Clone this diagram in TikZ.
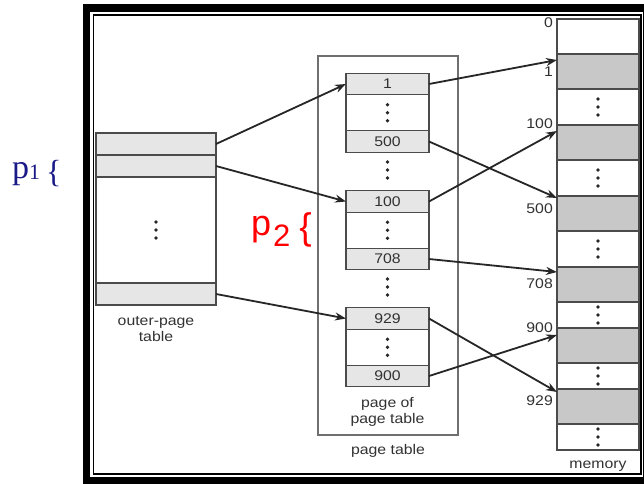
\documentclass[tikz,border=0pt]{standalone}
\usepackage{fontspec}
\setmainfont{Liberation Sans}[FakeStretch=1.13]
\newfontfamily\serifp{Liberation Serif}
\newfontfamily\sansp{Liberation Sans}
\usetikzlibrary{positioning,arrows.meta}
\definecolor{rowGray}{RGB}{230,230,230}
\definecolor{memGray}{RGB}{200,200,200}
\definecolor{lineGray}{RGB}{75,75,75}
\definecolor{txtGray}{RGB}{50,50,50}
\definecolor{pOne}{RGB}{25,25,135}

\begin{document}
\begin{tikzpicture}[x=1pt,y=-1pt,
    cell/.style={draw=lineGray, line width=1.4pt, inner sep=0pt, outer sep=0pt,
      font=\fontsize{14}{16}\selectfont, text=txtGray},
    ocell/.style={cell, minimum width=120pt, minimum height=22pt},
    pcell/.style={cell, minimum width=83pt, minimum height=21.5pt, fill=rowGray},
    mcell/.style={cell, minimum width=82pt, minimum height=35pt, fill=memGray},
    lbl/.style={font=\fontsize{14}{16}\selectfont, text=txtGray, align=center, inner sep=0pt},
    ptr/.style={line width=1.8pt, draw=black!85, -{Stealth[length=11pt,width=8pt]}},
    vdots/.pic={\foreach \dy in {-8,0,8} \fill[black!85] (0,\dy) circle (1.8);}
  ]
  \useasboundingbox (0,0) rectangle (644,483);
  \clip (0,0) rectangle (644,483);
  \fill[white] (0,0) rectangle (644,483);

  % frame
  \draw[line width=7.5pt] (86.5,8) rectangle (646.75,480.25);
  \draw[line width=1.5pt] (93.5,15) rectangle (641,474);

  % outer-page table
  \node[ocell, fill=rowGray] (ot1) at (156,144) {};
  \node[ocell, fill=rowGray, below=0pt of ot1] (ot2) {};
  \node[ocell, minimum height=106pt, below=0pt of ot2] (otgap) {};
  \node[ocell, fill=rowGray, below=0pt of otgap] (ot3) {};
  \pic at (otgap) {vdots};
  \node[lbl] (otlabel) at (156,329) {outer-page\\table};

  % page table
  \node[draw=lineGray!80, line width=1.2pt, minimum width=140pt, minimum height=379pt,
    inner sep=0pt] (ptab) at (388,245.5) {};
  \node[lbl] (ptlabel) at (388,451) {page table};

  \node[pcell] (a1) at (387.5,84) {1};
  \node[pcell, fill=white, minimum height=36pt, below=0pt of a1] (agap) {};
  \node[pcell, below=0pt of agap] (a2) {500};
  \pic at (agap) {vdots};
  \pic at (387.5,170) {vdots};

  \node[pcell] (b1) at (387.5,201.5) {100};
  \node[pcell, fill=white, minimum height=36pt, below=0pt of b1] (bgap) {};
  \node[pcell, below=0pt of bgap] (b2) {708};
  \pic at (bgap) {vdots};
  \pic at (387.5,287) {vdots};

  \node[pcell] (c1) at (387.5,318.5) {929};
  \node[pcell, fill=white, minimum height=36pt, below=0pt of c1] (cgap) {};
  \node[pcell, below=0pt of cgap] (c2) {900};
  \pic at (cgap) {vdots};
  \node[lbl] (pplabel) at (387.5,411.5) {page of\\page table};

  % memory
  \node[mcell, fill=white] (m0) at (598,36.5) {};
  \node[mcell, below=0pt of m0] (m1) {};
  \node[mcell, fill=white, minimum height=36pt, below=0pt of m1] (md1) {};
  \node[mcell, below=0pt of md1] (m100) {};
  \node[mcell, fill=white, minimum height=36pt, below=0pt of m100] (md2) {};
  \node[mcell, below=0pt of md2] (m500) {};
  \node[mcell, fill=white, minimum height=36pt, below=0pt of m500] (md3) {};
  \node[mcell, below=0pt of md3] (m708) {};
  \node[mcell, fill=white, minimum height=26pt, below=0pt of m708] (md4) {};
  \node[mcell, below=0pt of md4] (m900) {};
  \node[mcell, fill=white, minimum height=26pt, below=0pt of m900] (md5) {};
  \node[mcell, below=0pt of md5] (m929) {};
  \node[mcell, fill=white, minimum height=26pt, below=0pt of m929] (md6) {};
  \foreach \gap in {md1,md2,md3,md4,md5,md6} \pic at (\gap) {vdots};

  \node[lbl, anchor=east] (ml0) at (553,23) {0};
  \node[lbl, anchor=east] (ml1) at (553,72) {1};
  \node[lbl, anchor=east] (ml100) at (553,124) {100};
  \node[lbl, anchor=east] (ml500) at (553,209) {500};
  \node[lbl, anchor=east] (ml708) at (553,284) {708};
  \node[lbl, anchor=east] (ml900) at (553,328) {900};
  \node[lbl, anchor=east] (ml929) at (553,401) {929};
  \node[lbl] (memlabel) at (598,466) {memory};

  % pointers
  \draw[ptr] (ot1.east) -- (a1.west);
  \draw[ptr] (ot2.east) -- (b1.west);
  \draw[ptr] (ot3.east) -- (c1.west);
  \draw[ptr] (a1.east) -- ([yshift=-6pt]m1.north west);
  \draw[ptr] (a2.east) -- ([yshift=-2pt]m500.north west);
  \draw[ptr] (b1.east) -- ([yshift=-6pt]m100.north west);
  \draw[ptr] (b2.east) -- ([yshift=-5pt]m708.north west);
  \draw[ptr] (c1.east) -- ([yshift=-3pt]m929.north west);
  \draw[ptr] (c2.east) -- ([yshift=-7pt]m900.north west);

  % index labels
  \node[anchor=base west, inner sep=0pt, text=pOne] (pone) at (12,178)
    {\serifp\fontsize{34}{34}\selectfont p\raisebox{-1pt}{\fontsize{22}{22}\selectfont 1}\kern6pt\raisebox{-4pt}{\fontsize{32}{32}\selectfont\{}};
  \node[anchor=base west, inner sep=0pt, text=red] (ptwo) at (251,235)
    {\sansp\fontsize{36}{36}\selectfont p\kern2pt\raisebox{-11pt}{\fontsize{31}{31}\selectfont 2}\kern9pt\raisebox{-4pt}{\fontsize{37}{37}\selectfont\{}};
\end{tikzpicture}
\end{document}
